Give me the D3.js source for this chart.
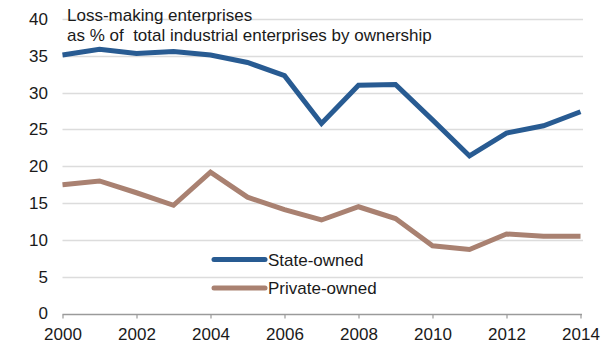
<!DOCTYPE html>
<html>
<head>
<meta charset="utf-8">
<script src="https://cdn.jsdelivr.net/npm/d3@7/dist/d3.min.js"></script>
<style>
  html, body { margin: 0; padding: 0; background: #fff; }
  svg text { font-family: "Liberation Sans", Arial, Helvetica, sans-serif; fill: #1a1a1a; }
</style>
</head>
<body>
<svg id="chart" width="610" height="354"></svg>
<script>
// Loss-making enterprises as % of total industrial enterprises, by ownership
const years = [2000, 2001, 2002, 2003, 2004, 2005, 2006, 2007, 2008, 2009, 2010, 2011, 2012, 2013, 2014];
const stateOwned   = [35.1, 35.9, 35.3, 35.6, 35.1, 34.1, 32.3, 25.8, 31.0, 31.1, 26.3, 21.4, 24.5, 25.5, 27.4];
const privateOwned = [17.5, 18.0, 16.4, 14.7, 19.2, 15.8, 14.1, 12.7, 14.5, 12.9, 9.2, 8.7, 10.8, 10.5, 10.5];
const yTicks = [0, 5, 10, 15, 20, 25, 30, 35, 40];
const xTicks = [2000, 2002, 2004, 2006, 2008, 2010, 2012, 2014];
const seriesNames = ["State-owned", "Private-owned"];
const titleLines = ["Loss-making enterprises", "as % of  total industrial enterprises by ownership"];

const colors = ["#285b92", "#a98171"];
const fontSize = 17;

const svg = d3.select("#chart");
const x = d3.scaleLinear().domain([2000, 2014]).range([62.5, 580.5]);
const y = d3.scaleLinear().domain([0, 40]).range([313.5, 19]);

// horizontal gridlines
svg.append("g")
  .selectAll("line")
  .data(yTicks.filter(d => d > 0))
  .join("line")
  .attr("x1", x(2000)).attr("x2", 583)
  .attr("y1", d => Math.round(y(d)) + 0.5).attr("y2", d => Math.round(y(d)) + 0.5)
  .attr("stroke", "#dcdcdc").attr("stroke-width", 1.5);

// y axis labels
const yAxis = svg.append("g")
  .attr("transform", "translate(48,0)")
  .call(d3.axisLeft(y).tickValues(yTicks).tickSize(0).tickPadding(0));
yAxis.select(".domain").remove();
yAxis.selectAll("text").attr("font-size", fontSize).attr("fill", "#1a1a1a")
  .style("font-family", "'Liberation Sans', Arial, sans-serif");

// x axis
const xAxis = svg.append("g")
  .attr("transform", `translate(0,${Math.round(y(0)) + 0.5})`)
  .call(d3.axisBottom(x).tickValues(xTicks).tickFormat(d3.format("d")).tickSizeOuter(0).tickSizeInner(4).tickPadding(9));
xAxis.select(".domain").attr("stroke", "#9a9a9a").attr("stroke-width", 1.5)
  .attr("d", `M${x(2000)},0H582`);
xAxis.selectAll(".tick line").attr("stroke", "#9a9a9a").attr("stroke-width", 1.2);
xAxis.selectAll("text").attr("font-size", fontSize).attr("fill", "#1a1a1a")
  .style("font-family", "'Liberation Sans', Arial, sans-serif");

// series lines
const line = d3.line().x((d, i) => x(years[i])).y(d => y(d));
[stateOwned, privateOwned].forEach((vals, k) => {
  svg.append("path")
    .datum(vals)
    .attr("d", line)
    .attr("fill", "none")
    .attr("stroke", colors[k])
    .attr("stroke-width", 5)
    .attr("stroke-linejoin", "miter");
});

// title
svg.append("g").selectAll("text")
  .data(titleLines)
  .join("text")
  .attr("x", 67)
  .attr("y", (d, i) => 21 + i * 19.5)
  .attr("font-size", fontSize)
  .style("white-space", "pre")
  .attr("xml:space", "preserve")
  .text(d => d);

// legend
const legend = svg.append("g");
seriesNames.forEach((name, k) => {
  const ly = 259.5 + k * 28.5;
  legend.append("line")
    .attr("x1", 214).attr("x2", 265)
    .attr("y1", ly).attr("y2", ly)
    .attr("stroke", colors[k]).attr("stroke-width", 5)
    .attr("stroke-linecap", "round");
  legend.append("text")
    .attr("x", 268).attr("y", ly + 6)
    .attr("font-size", fontSize)
    .text(name);
});
</script>
</body>
</html>
